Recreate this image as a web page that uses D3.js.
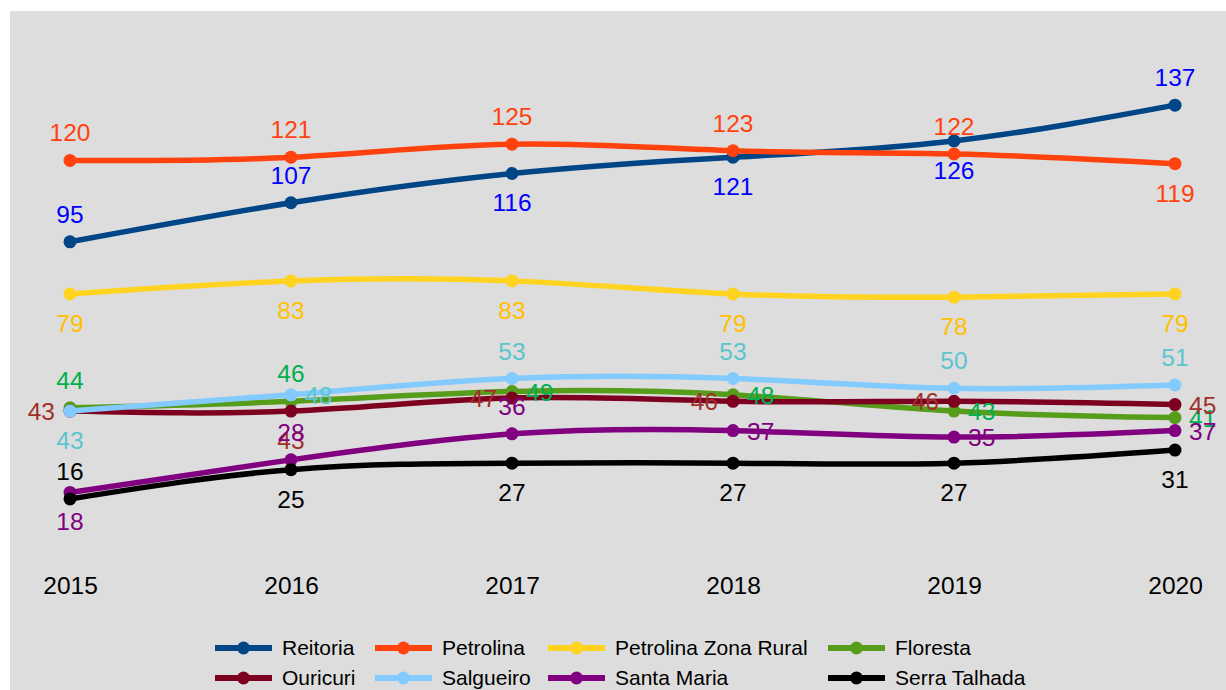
<!DOCTYPE html>
<html>
<head>
<meta charset="utf-8">
<script src="https://cdn.jsdelivr.net/npm/d3@7"></script>
<style>
  html, body { margin: 0; padding: 0; background: #ffffff; }
  svg { display: block; }
  text { font-family: "Liberation Sans", Arial, sans-serif; }
</style>
</head>
<body>
<svg id="chart" width="1226" height="690"></svg>
<script>
// ---- data ----
const years = ["2015", "2016", "2017", "2018", "2019", "2020"];
const seriesNames = ["Reitoria", "Petrolina", "Petrolina Zona Rural", "Floresta", "Ouricuri", "Salgueiro", "Santa Maria", "Serra Talhada"];
const reitoria = [95, 107, 116, 121, 126, 137];
const petrolina = [120, 121, 125, 123, 122, 119];
const petrolinaZonaRural = [79, 83, 83, 79, 78, 79];
const floresta = [44, 46, 49, 48, 43, 41];
const ouricuri = [43, 43, 47, 46, 46, 45];
const salgueiro = [43, 48, 53, 53, 50, 51];
const santaMaria = [18, 28, 36, 37, 35, 37];
const serraTalhada = [16, 25, 27, 27, 27, 31];

const seriesValues = [reitoria, petrolina, petrolinaZonaRural, floresta, ouricuri, salgueiro, santaMaria, serraTalhada];

// ---- styles ----
const lineColors = ["#004586", "#ff420e", "#ffd320", "#579d1c", "#7e0021", "#83caff", "#800080", "#000000"];
const labelColors = ["#0000ff", "#ff420e", "#ffc000", "#00b050", "#a0302b", "#5bc5cf", "#800080", "#000000"];
// label placement: a = above, b = below, l = left, r = right
const labelPlacement = [
  ["a","a","b","b","b","a"],
  ["a","a","a","a","a","b"],
  ["b","b","b","b","b","b"],
  ["a","a","r","r","r","r"],
  ["l","b","l","l","l","r"],
  ["b","r","a","a","a","a"],
  ["b","a","a","r","r","r"],
  ["a","b","b","b","b","b"]
];

const W = 1226, H = 690;
const svg = d3.select("#chart");

// background plot area
svg.append("rect").attr("x", 10).attr("y", 11).attr("width", W - 10).attr("height", H - 11).attr("fill", "#dddddd");

const x = d3.scalePoint().domain(years).range([70, 1175]);
const y = d3.scaleLinear().domain([0, 140]).range([551, 551 - 140 * 3.2545]);

const line = d3.line()
  .x((d, i) => x(years[i]))
  .y(d => y(d))
  .curve(d3.curveNatural);

const gLines = svg.append("g");
seriesValues.forEach((vals, si) => {
  const g = gLines.append("g");
  g.append("path")
    .datum(vals)
    .attr("d", line)
    .attr("fill", "none")
    .attr("stroke", lineColors[si])
    .attr("stroke-width", 5.5)
    .attr("stroke-linecap", "round");
  g.selectAll("circle")
    .data(vals)
    .join("circle")
    .attr("cx", (d, i) => x(years[i]))
    .attr("cy", d => y(d))
    .attr("r", 6.5)
    .attr("fill", lineColors[si]);
});

// data labels
const gLabels = svg.append("g").attr("font-size", 24.5);
seriesValues.forEach((vals, si) => {
  vals.forEach((v, i) => {
    const px = x(years[i]), py = y(v);
    const p = labelPlacement[si][i];
    let tx = px, ty = py, anchor = "middle";
    if (p === "a") { ty = py - 19; }
    else if (p === "b") { ty = py + 38; }
    else if (p === "l") { tx = px - 15; ty = py + 9; anchor = "end"; }
    else if (p === "r") { tx = px + 14; ty = py + 9; anchor = "start"; }
    gLabels.append("text")
      .attr("x", tx).attr("y", ty)
      .attr("text-anchor", anchor)
      .attr("fill", labelColors[si])
      .text(v);
  });
});

// x axis labels
const xAxis = d3.axisBottom(x).tickSize(0).tickPadding(0);
const gx = svg.append("g").attr("transform", "translate(0,575)").call(xAxis);
gx.select(".domain").remove();
gx.selectAll("text")
  .attr("font-size", 24.5)
  .attr("fill", "#000000")
  .attr("dy", 0)
  .attr("y", 19)
  .style("font-family", '"Liberation Sans", Arial, sans-serif');

// legend
const legendCols = [215, 375, 548, 828];
const legendRows = [648, 678];
const legendOrder = [[0,1,2,3],[4,5,6,7]];
const gLeg = svg.append("g");
legendOrder.forEach((row, ri) => {
  row.forEach((si, ci) => {
    const lx = legendCols[ci], ly = legendRows[ri];
    const item = gLeg.append("g");
    item.append("line")
      .attr("x1", lx).attr("x2", lx + 57)
      .attr("y1", ly).attr("y2", ly)
      .attr("stroke", lineColors[si]).attr("stroke-width", 6);
    item.append("circle")
      .attr("cx", lx + 28.5).attr("cy", ly).attr("r", 6.5)
      .attr("fill", lineColors[si]);
    item.append("text")
      .attr("x", lx + 67).attr("y", ly + 7)
      .attr("font-size", 21)
      .attr("fill", "#000000")
      .text(seriesNames[si]);
  });
});
</script>
</body>
</html>
